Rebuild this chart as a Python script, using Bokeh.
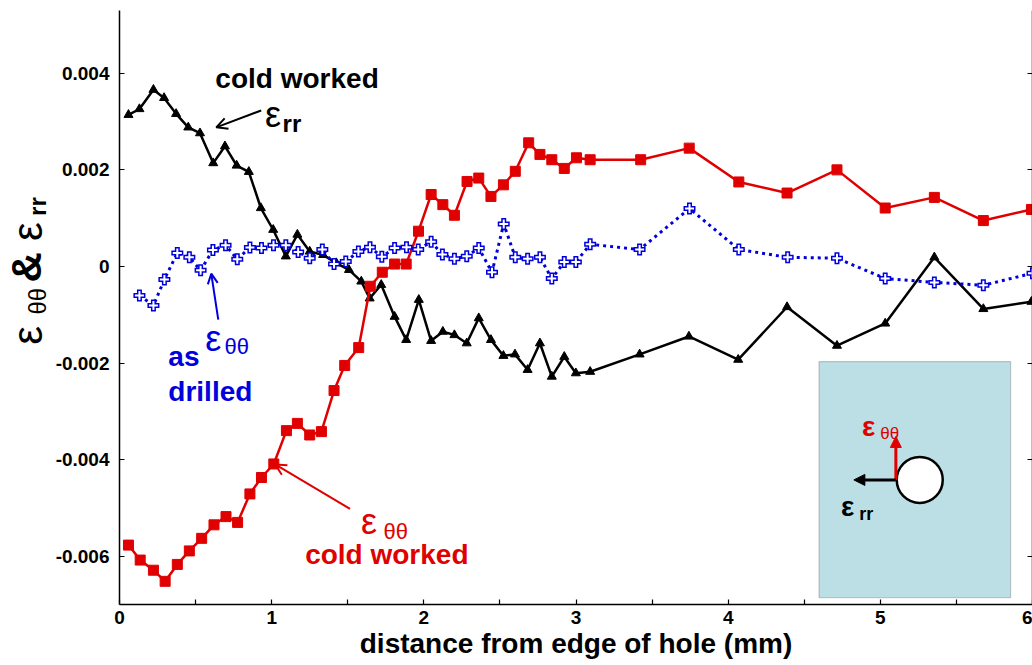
import math
from bokeh.plotting import figure
from bokeh.layouts import row
from bokeh.core.properties import value
from bokeh.models import (Label, Arrow, OpenHead, NormalHead, BoxAnnotation, LinearAxis,
                          FixedTicker, CustomJSTickFormatter, Range1d)
from bokeh.embed import file_html
from bokeh.resources import INLINE

# ---------------- data ----------------
x_rr = [0.059, 0.131, 0.223, 0.293, 0.372, 0.452, 0.529, 0.616, 0.693, 0.770,
        0.850, 0.929, 1.010, 1.093, 1.169, 1.250, 1.338, 1.425, 1.508, 1.589,
        1.644, 1.720, 1.808, 1.884, 1.967, 2.048, 2.125, 2.201, 2.282, 2.361,
        2.441, 2.523, 2.599, 2.682, 2.763, 2.841, 2.923, 2.999, 3.093, 3.418,
        3.742, 4.066, 4.387, 4.715, 5.032, 5.355, 5.677, 5.993]
eps_rr_cold = [0.00314, 0.00326, 0.00366, 0.00349, 0.00316, 0.00288, 0.00276, 0.00214, 0.00249, 0.00209,
               0.00196, 0.00121, 0.00076, 0.00021, 0.00066, 0.00031, 0.00024, 0.00007, -0.00007, -0.00031,
               -0.00066, -0.00038, -0.00104, -0.00152, -0.00069, -0.00154, -0.00135, -0.00142, -0.00159, -0.00107,
               -0.00152, -0.00185, -0.00182, -0.00214, -0.00159, -0.00228, -0.00187, -0.00221, -0.00218, -0.00182,
               -0.00145, -0.00193, -0.00084, -0.00164, -0.00118, 0.00019, -0.00088, -0.00073]

x_tt_cold = [0.059, 0.136, 0.223, 0.300, 0.380, 0.459, 0.540, 0.621, 0.700, 0.776,
             0.857, 0.933, 1.014, 1.097, 1.169, 1.250, 1.327, 1.410, 1.480, 1.572,
             1.648, 1.727, 1.808, 1.884, 1.965, 2.048, 2.125, 2.201, 2.284, 2.361,
             2.441, 2.523, 2.601, 2.689, 2.763, 2.841, 2.923, 3.003, 3.093, 3.425,
             3.744, 4.070, 4.387, 4.715, 5.032, 5.355, 5.677, 5.993]
eps_tt_cold = [-0.00577, -0.00608, -0.00629, -0.00652, -0.00617, -0.00589, -0.00563, -0.00535, -0.00518, -0.00530,
               -0.00471, -0.00437, -0.00409, -0.00340, -0.00325, -0.00349, -0.00342, -0.00257, -0.00205, -0.00168,
               -0.00041, -0.00012, 0.00005, 0.00005, 0.00073, 0.00149, 0.00128, 0.00106, 0.00176, 0.00183,
               0.00145, 0.00169, 0.00197, 0.00256, 0.00232, 0.00221, 0.00203, 0.00225, 0.00221, 0.00221,
               0.00245, 0.00175, 0.00152, 0.00200, 0.00121, 0.00143, 0.00095, 0.00118]

x_tt_drilled = [0.131, 0.223, 0.295, 0.380, 0.459, 0.533, 0.614, 0.697, 0.774, 0.857,
                0.933, 1.012, 1.093, 1.174, 1.250, 1.333, 1.410, 1.487, 1.570, 1.646,
                1.724, 1.808, 1.886, 1.963, 2.048, 2.122, 2.201, 2.282, 2.361, 2.448,
                2.525, 2.601, 2.682, 2.763, 2.841, 2.923, 2.999, 3.093, 3.418, 3.746,
                4.070, 4.391, 4.715, 5.032, 5.355, 5.677, 6.0]
eps_tt_drilled = [-0.00060, -0.00081, -0.00027, 0.00028, 0.00019, -0.00008, 0.00034, 0.00044, 0.00015, 0.00039,
                  0.00038, 0.00044, 0.00044, 0.00030, 0.00017, 0.00035, 0.00005, 0.00010, 0.00031, 0.00040,
                  0.00020, 0.00038, 0.00040, 0.00035, 0.00051, 0.00025, 0.00016, 0.00021, 0.00038, -0.00012,
                  0.00088, 0.00019, 0.00016, 0.00019, -0.00025, 0.00009, 0.00009, 0.00046, 0.00035, 0.00120,
                  0.00035, 0.00019, 0.00017, -0.00025, -0.00033, -0.00039, -0.00014]

x_ticks = [0, 1, 2, 3, 4, 5, 6]
x_minor_ticks = [0.5, 1.5, 2.5, 3.5, 4.5, 5.5]
y_ticks = [-0.006, -0.004, -0.002, 0, 0.002, 0.004]

x_title = "distance from edge of hole (mm)"

# ---------------- styling ----------------
FONT = "Liberation Sans"
RED = "#E00000"
BLUE = "#0000DD"
BLACK = "black"
TOTAL_H = 665
TITLE_W = 52
Y_RANGE = (-0.007, 0.0053)
TOP_B, BOTTOM_B = 10, 61

# ---------------- y-axis title panel (rotated rich text) ----------------
t = figure(width=TITLE_W, height=TOTAL_H, x_range=Range1d(0, TITLE_W), y_range=Range1d(*Y_RANGE),
           output_backend="svg", toolbar_location=None,
           min_border_left=0, min_border_right=0, min_border_top=TOP_B, min_border_bottom=BOTTOM_B)
t.axis.visible = False
t.grid.visible = False
t.outline_line_color = None
R = math.pi / 2


def ttext(x, y, s, size, bold=False):
    t.text(x=[x], y=[y], text=[s], angle=R, text_font=value(FONT),
           text_font_size=value(f"{size}px"), text_font_style="bold" if bold else "normal",
           text_align="center", text_baseline="middle", text_color=BLACK)


ttext(27, -0.00143, "ε", 42)
ttext(37, -0.00072, "θθ", 24)
ttext(26, -0.00002, "&", 42, bold=True)
ttext(27, 0.00072, "ε", 42)
ttext(37, 0.00124, "rr", 24, bold=True)

# ---------------- main plot ----------------
p = figure(width=1032 - TITLE_W, height=TOTAL_H, x_range=Range1d(0, 6), y_range=Range1d(*Y_RANGE),
           output_backend="svg", toolbar_location=None,
           min_border_left=116 - TITLE_W, min_border_top=TOP_B, min_border_right=0, min_border_bottom=0)
p.grid.visible = False
p.outline_line_color = None
p.background_fill_color = "white"
p.border_fill_color = "white"

# x axis
xa = p.xaxis[0]
xa.ticker = FixedTicker(ticks=x_ticks, minor_ticks=x_minor_ticks)
xa.axis_label = x_title
xa.axis_label_text_font = FONT
xa.axis_label_text_font_style = "bold"
xa.axis_label_text_font_size = "28px"
xa.axis_label_text_color = BLACK
xa.axis_label_standoff = 1
xa.major_label_text_font = FONT
xa.major_label_text_font_style = "bold"
xa.major_label_text_font_size = "19px"
xa.major_label_text_color = BLACK
xa.major_label_standoff = 6
xa.major_tick_in = 5
xa.major_tick_out = 0
xa.minor_tick_in = 5
xa.minor_tick_out = 0
xa.axis_line_width = 1.5
xa.axis_line_color = BLACK
xa.major_tick_line_width = 1.2
xa.minor_tick_line_width = 1.2

# y axis
ya = p.yaxis[0]
ya.ticker = FixedTicker(ticks=y_ticks)
ya.formatter = CustomJSTickFormatter(code="return Math.abs(tick) < 1e-9 ? '0' : tick.toFixed(3);")
ya.major_label_text_font = FONT
ya.major_label_text_font_style = "bold"
ya.major_label_text_font_size = "19px"
ya.major_label_text_color = BLACK
ya.major_label_standoff = 10
ya.major_tick_in = 5
ya.major_tick_out = 0
ya.minor_tick_line_color = None
ya.axis_line_width = 1.5
ya.axis_line_color = BLACK
ya.major_tick_line_width = 1.2

# right axis (ticks only)
ra = LinearAxis(ticker=FixedTicker(ticks=y_ticks),
                formatter=CustomJSTickFormatter(code="return '';"),
                major_tick_in=5, major_tick_out=0, minor_tick_line_color=None,
                major_label_standoff=0, axis_line_width=1.5, axis_line_color=BLACK,
                major_tick_line_width=1.2)
p.add_layout(ra, "right")

# ---------------- inset (schematic) ----------------
INSET = dict(left=4.597, right=5.856, top=-0.00197, bottom=-0.00686)
p.add_layout(BoxAnnotation(left=INSET["left"], right=INSET["right"], top=INSET["top"],
                           bottom=INSET["bottom"], fill_color="#BBDFE4", fill_alpha=1.0,
                           line_color="#555555", line_width=1.2, level="underlay"))
HOLE_X, HOLE_Y = 5.259, -0.00442
ORIGIN_X = 5.102
p.scatter(x=[HOLE_X], y=[HOLE_Y], marker="circle", size=46, fill_color="white",
          line_color="black", line_width=2.5)
p.add_layout(Arrow(x_start=ORIGIN_X, y_start=HOLE_Y, x_end=ORIGIN_X, y_end=-0.00352,
                   line_color=RED, line_width=3,
                   end=NormalHead(size=11, fill_color=RED, line_color=RED)))
p.add_layout(Arrow(x_start=ORIGIN_X, y_start=HOLE_Y, x_end=4.826, y_end=HOLE_Y,
                   line_color=BLACK, line_width=3,
                   end=NormalHead(size=11, fill_color=BLACK, line_color=BLACK)))

# ---------------- data series ----------------
p.line(x_rr, eps_rr_cold, line_color=BLACK, line_width=2.5)
p.scatter(x_rr, eps_rr_cold, marker="triangle", size=9, fill_color=BLACK, line_color=BLACK)

p.line(x_tt_cold, eps_tt_cold, line_color=RED, line_width=2.5)
p.scatter(x_tt_cold, eps_tt_cold, marker="square", size=10, fill_color=RED, line_color=RED)

p.line(x_tt_drilled, eps_tt_drilled, line_color=BLUE, line_width=3, line_dash="3 4")
p.scatter(x_tt_drilled, eps_tt_drilled, marker="cross", size=12, line_color=BLUE, line_width=5)
p.scatter(x_tt_drilled, eps_tt_drilled, marker="cross", size=9, line_color="white", line_width=2)


# ---------------- text annotations ----------------
def lab(x, y, s, size, color=BLACK, bold=False):
    p.add_layout(Label(x=x, y=y, text=s, text_font=FONT, text_font_size=f"{size}px",
                       text_color=color, text_font_style="bold" if bold else "normal",
                       text_align="left", text_baseline="alphabetic"))


# cold worked eps_rr
lab(0.630, 0.00390, "cold worked", 28, bold=True)
lab(0.957, 0.00315, "ε", 36)
lab(1.072, 0.00296, "rr", 24, bold=True)
p.add_layout(Arrow(x_start=0.931, y_start=0.00323, x_end=0.636, y_end=0.00288,
                   line_color=BLACK, line_width=2,
                   end=OpenHead(size=11, line_color=BLACK, line_width=2)))

# as drilled
lab(0.321, -0.00187, "as", 28, color=BLUE, bold=True)
lab(0.321, -0.00259, "drilled", 28, color=BLUE, bold=True)
lab(0.564, -0.00149, "ε", 36, color=BLUE)
lab(0.690, -0.00166, "θθ", 22, color=BLUE)
p.add_layout(Arrow(x_start=0.649, y_start=-0.00110, x_end=0.603, y_end=-0.00015,
                   line_color=BLUE, line_width=2,
                   end=OpenHead(size=10, line_color=BLUE, line_width=2)))

# eps_thetatheta cold worked
lab(1.587, -0.00528, "ε", 36, color=RED)
lab(1.735, -0.00549, "θθ", 22, color=RED)
lab(1.220, -0.00597, "cold worked", 28, color=RED, bold=True)
p.add_layout(Arrow(x_start=1.515, y_start=-0.00502, x_end=1.023, y_end=-0.00410,
                   line_color=RED, line_width=2,
                   end=OpenHead(size=11, line_color=RED, line_width=2)))

# inset labels
lab(4.879, -0.00332, "ε", 28, color=RED, bold=True)
lab(5.000, -0.00346, "θθ", 17, color=RED)
lab(4.741, -0.00497, "ε", 28, color=BLACK, bold=True)
lab(4.862, -0.00512, "rr", 18, color=BLACK, bold=True)

layout = row(t, p, spacing=0)
open("out.html", "w").write(file_html(layout, INLINE))
